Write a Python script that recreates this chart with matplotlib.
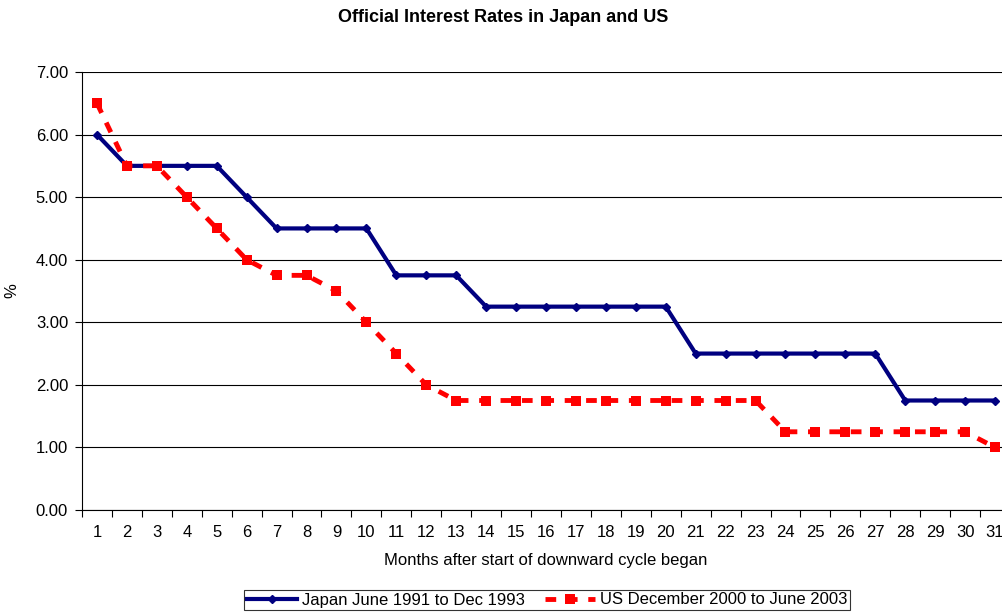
import numpy as np
import matplotlib.pyplot as plt
from matplotlib.ticker import FormatStrFormatter, FixedLocator

plt.rcParams['font.family'] = ['Liberation Sans', 'DejaVu Sans']

# Monthly official rates after the start of each easing cycle
months = list(range(1, 32))
japan = [6.00, 5.50, 5.50, 5.50, 5.50, 5.00, 4.50, 4.50, 4.50, 4.50,
         3.75, 3.75, 3.75, 3.25, 3.25, 3.25, 3.25, 3.25, 3.25, 3.25,
         2.50, 2.50, 2.50, 2.50, 2.50, 2.50, 2.50, 1.75, 1.75, 1.75, 1.75]
us = [6.50, 5.50, 5.50, 5.00, 4.50, 4.00, 3.75, 3.75, 3.50, 3.00,
      2.50, 2.00, 1.75, 1.75, 1.75, 1.75, 1.75, 1.75, 1.75, 1.75,
      1.75, 1.75, 1.75, 1.25, 1.25, 1.25, 1.25, 1.25, 1.25, 1.25, 1.00]

fig = plt.figure(figsize=(10.02, 6.14), dpi=100)
ax = fig.add_axes([82 / 1002, 1 - 510 / 614, 928 / 1002, 438 / 614])

ax.plot(months, japan, color='#000080', lw=3, marker='D', markersize=4,
        label='Japan June 1991 to Dec 1993', zorder=3)
ax.plot(months, us, color='#ff0000', lw=3.5, ls=(0, (2.2, 2.2)), marker='s',
        markersize=7, markeredgewidth=0,
        label='US December 2000 to June 2003', zorder=4)

ax.set_xlim(0.5, 31.5)
ax.set_ylim(0, 7)
ax.set_yticks(np.arange(0, 7.01, 1))
ax.yaxis.set_major_formatter(FormatStrFormatter('%.2f'))
ax.yaxis.grid(True, color='black', lw=0.8)
ax.set_axisbelow(True)

# category ticks sit between months, labels on the months
ax.set_xticks(months)
ax.tick_params(axis='x', length=0, labelsize=12, pad=11)
ax.xaxis.set_minor_locator(FixedLocator(np.arange(0.5, 32, 1)))
ax.tick_params(axis='x', which='minor', length=5, width=0.8, direction='out')
ax.tick_params(axis='y', length=5, width=0.8, labelsize=12, direction='out', pad=5)

for side in ['top', 'right']:
    ax.spines[side].set_visible(False)
ax.spines['left'].set_linewidth(0.8)
ax.spines['bottom'].set_linewidth(0.8)

ax.set_xlabel('Months after start of downward cycle began', fontsize=12, labelpad=9)
ax.set_ylabel('%', fontsize=12, labelpad=12)
fig.text(503 / 1002, 1 - 17 / 614, 'Official Interest Rates in Japan and US',
         ha='center', va='center', fontsize=13, fontweight='bold')

leg = fig.legend(loc='center', bbox_to_anchor=(547 / 1002, 1 - 600 / 614), ncol=2,
                 fontsize=12, frameon=True, fancybox=False, edgecolor='black',
                 borderpad=0.15, handlelength=3, columnspacing=1.2,
                 handletextpad=0.3, borderaxespad=0)
leg.get_frame().set_linewidth(0.8)

fig.savefig('out.png', dpi=100)
